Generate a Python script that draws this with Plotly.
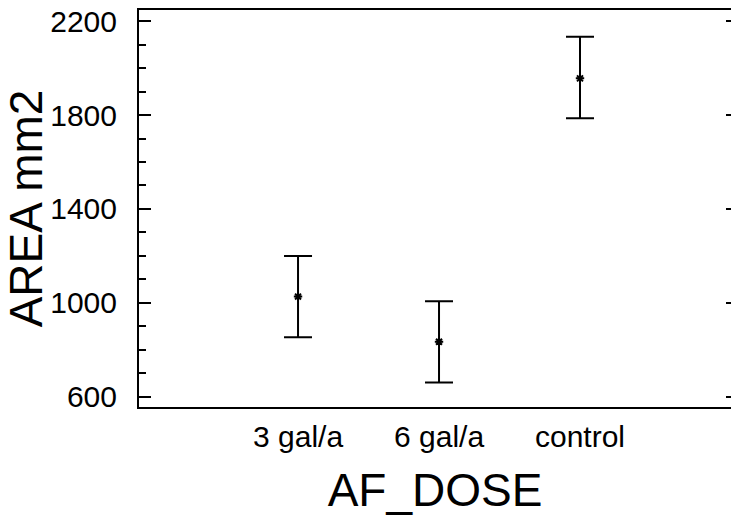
import plotly.graph_objects as go

categories = ["3 gal/a", "6 gal/a", "control"]
means = [1027, 835, 1956]
upper = [1200, 1007, 2133]
lower = [854, 661, 1786]

err_plus = [u - m for u, m in zip(upper, means)]
err_minus = [m - l for m, l in zip(means, lower)]

FONT = "Liberation Sans, Arial, sans-serif"

fig = go.Figure()
fig.add_trace(go.Scatter(
    x=categories, y=means, mode="markers",
    marker=dict(symbol="asterisk", size=7, color="black",
                line=dict(color="black", width=2)),
    error_y=dict(type="data", symmetric=False, array=err_plus,
                 arrayminus=err_minus, color="black", thickness=2, width=14),
    showlegend=False, hoverinfo="skip",
))
fig.add_trace(go.Scatter(
    x=categories, y=means, mode="markers", yaxis="y2",
    marker=dict(opacity=0), showlegend=False, hoverinfo="skip",
))

yrange = [557, 2247]
fig.update_layout(
    width=731, height=516,
    margin=dict(l=139, r=0, t=10, b=109),
    paper_bgcolor="white", plot_bgcolor="white",
    font=dict(family=FONT, color="black"),
    xaxis=dict(
        type="category", range=[-1.128, 3.071],
        showline=True, mirror=True, linecolor="black", linewidth=2,
        showgrid=False, zeroline=False, ticks="",
        tickfont=dict(size=30, family=FONT, color="black"),
        ticklabelstandoff=2,
        title=dict(text="AF_DOSE", font=dict(size=46, family=FONT, color="black"), standoff=22),
    ),
    yaxis=dict(
        range=yrange, tick0=600, dtick=400,
        showline=True, linecolor="black", linewidth=2,
        showgrid=False, zeroline=False,
        ticks="inside", ticklen=12, tickwidth=2, tickcolor="black",
        minor=dict(dtick=100, tick0=600, ticks="inside", ticklen=7, tickwidth=2,
                   tickcolor="black", showgrid=False),
        tickfont=dict(size=30, family=FONT, color="black"),
        ticklabelstandoff=14,
        title=dict(text="AREA mm2", font=dict(size=46, family=FONT, color="black"), standoff=6),
    ),
    yaxis2=dict(
        overlaying="y", side="right", anchor="x", range=yrange,
        tick0=600, dtick=400, ticks="inside", ticklen=5, tickwidth=2,
        tickcolor="black", showticklabels=False, showline=False,
        showgrid=False, zeroline=False,
    ),
)

fig.write_html("out.html")
